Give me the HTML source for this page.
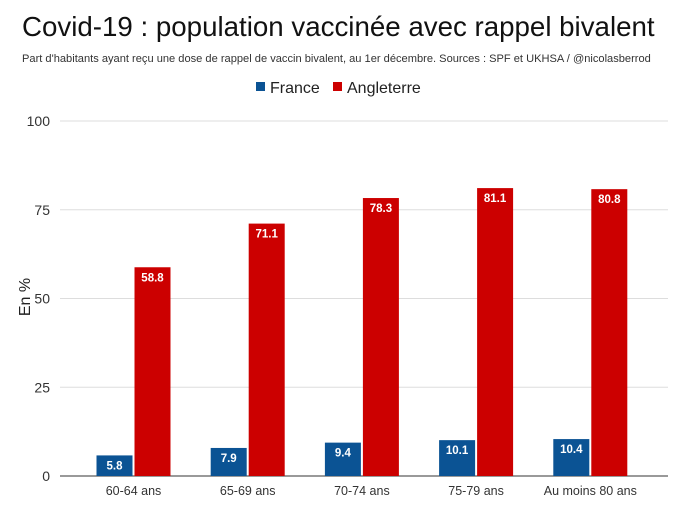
<!DOCTYPE html>
<html><head><meta charset="utf-8"><style>
body{margin:0;background:#fff;font-family:"Liberation Sans",sans-serif;}
svg text{font-family:"Liberation Sans",sans-serif;}
</style></head><body>
<svg width="680" height="502" xmlns="http://www.w3.org/2000/svg">
<text x="22" y="36" font-size="27.7" fill="#111">Covid-19 : population vaccinée avec rappel bivalent</text>
<text x="22" y="62" font-size="11.1" fill="#333">Part d'habitants ayant reçu une dose de rappel de vaccin bivalent, au 1er décembre. Sources : SPF et UKHSA / @nicolasberrod</text>
<g>
<rect x="256" y="82" width="9" height="9" fill="#0b5394"/>
<text x="270" y="93" font-size="16" fill="#222">France</text>
<rect x="333" y="82" width="9" height="9" fill="#cc0000"/>
<text x="347" y="93" font-size="16" fill="#222">Angleterre</text>
</g>
<text transform="translate(30,297) rotate(-90)" text-anchor="middle" font-size="16" fill="#222">En %</text>
<g id="grid"></g><g id="bars"></g>
</svg>
<script>
const categories=["60-64 ans","65-69 ans","70-74 ans","75-79 ans","Au moins 80 ans"];
const france=[5.8,7.9,9.4,10.1,10.4];
const angleterre=[58.8,71.1,78.3,81.1,80.8];
const ticks=[0,25,50,75,100];
const NS="http://www.w3.org/2000/svg";
const x0=60,x1=668,yb=476,yt=121;
const y=v=>yb-(v/100)*(yb-yt);
const step=114.2;
const cx=i=>133.5+step*i;
const grid=document.getElementById('grid'),bars=document.getElementById('bars');
function mk(tag,attrs,parent){const e=document.createElementNS(NS,tag);for(const k in attrs)e.setAttribute(k,attrs[k]);parent.appendChild(e);return e;}
ticks.forEach(t=>{
 const l=mk('line',{x1:x0,x2:x1,y1:y(t),y2:y(t),stroke:t===0?'#333':'#ddd','stroke-width':1},grid);
 
 
 const tx=mk('text',{x:50,y:y(t)+5,'text-anchor':'end','font-size':14,fill:'#333'},grid);
 tx.textContent=t;
 
 
});
const bw=36;
categories.forEach((c,i)=>{
 const c0=cx(i);
 [[france[i],'#0b5394',c0-bw-1,'france'],[angleterre[i],'#cc0000',c0+1,'angleterre']].forEach(([v,col,bx,s])=>{
  const r=mk('rect',{x:bx,y:y(v),width:bw,height:yb-y(v),fill:col},bars);
  
  
  const t=mk('text',{x:bx+bw/2,y:y(v)+14,'text-anchor':'middle','font-size':11.5,'font-weight':'bold',fill:'#fff'},bars);
  t.textContent=v.toFixed(1);
  
  
 });
 const lb=mk('text',{x:c0,y:yb+19,'text-anchor':'middle','font-size':12.5,fill:'#333'},bars);
 lb.textContent=c;
 
 
});
</script>
</body></html>
